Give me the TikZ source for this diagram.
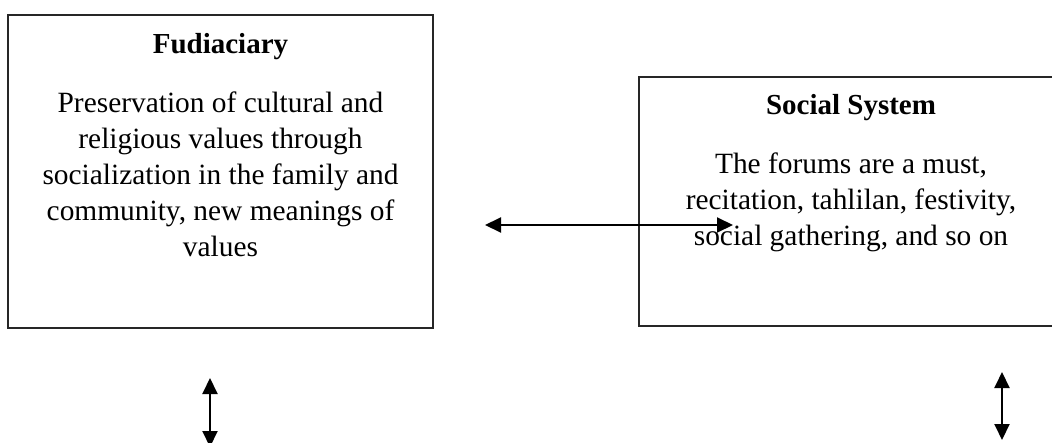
\documentclass[tikz,border=0pt]{standalone}
\usepackage{fontspec}
\setmainfont{Liberation Serif}
\usetikzlibrary{arrows.meta}
\begin{document}
\begin{tikzpicture}[x=1pt,y=-1pt,
  boxframe/.style={draw=black!85,line width=1.1pt,inner sep=0pt},
  titletext/.style={font=\fontsize{29}{33}\selectfont\bfseries,anchor=base,inner sep=0pt},
  bodytext/.style={font=\fontsize{29.4}{35.9}\selectfont,align=center,anchor=north,inner sep=0pt},
  link/.style={line width=2pt,{Triangle[length=16pt,width=15pt]}-{Triangle[length=16pt,width=15pt]}}
]
\useasboundingbox (0,0) rectangle (1052,442);
\node[boxframe,minimum width=425pt,minimum height=313pt] (fbox) at (220.5,171.5) {};
\node[boxframe,minimum width=425pt,minimum height=249pt] (sbox) at (851.5,201.5) {};
\node[titletext] (ftitle) at (220.5,53) {Fudiaciary};
\node[bodytext] (fbody) at (220.5,92) {Preservation of cultural and\\religious values through\\socialization in the family and\\community, new meanings of\\values};
\node[titletext] (stitle) at (851,114) {Social System};
\node[bodytext] (sbody) at (851,153) {The forums are a must,\\recitation, tahlilan, festivity,\\social gathering, and so on};
\coordinate (hl) at (485,225);
\coordinate (hr) at (733,225);
\coordinate (lt) at (210,378);
\coordinate (lb) at (210,447);
\coordinate (rt) at (1002,372);
\coordinate (rb) at (1002,440);
\draw[link] (hl) -- (hr);
\draw[link] (lt) -- (lb);
\draw[link] (rt) -- (rb);
\end{tikzpicture}
\end{document}
